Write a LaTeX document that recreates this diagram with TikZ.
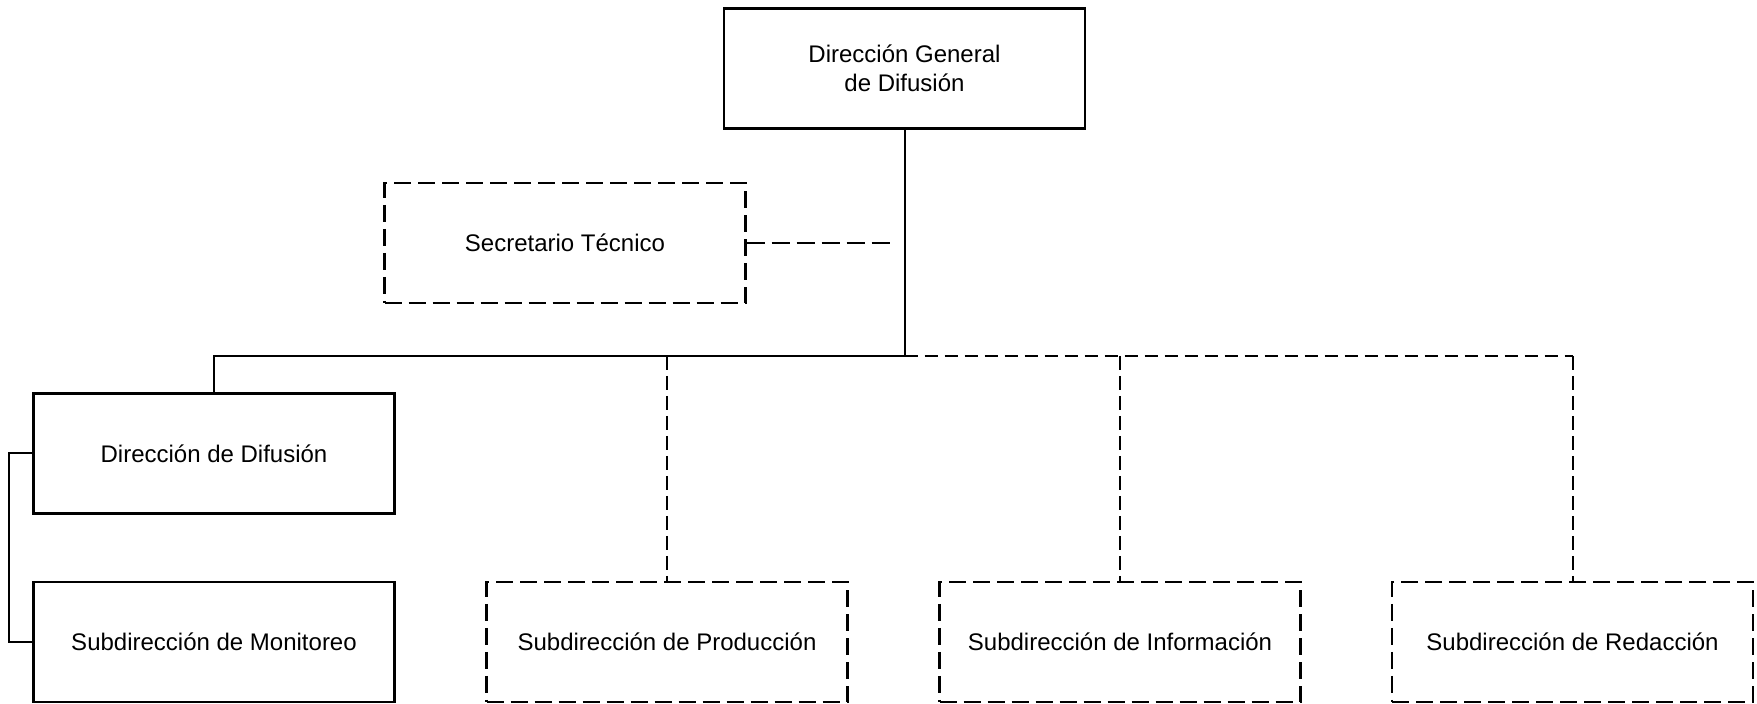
\documentclass[tikz,border=0pt]{standalone}
\usepackage{fontspec}
\setmainfont{Liberation Sans}
\tikzstyle{unit}=[draw, line width=1.1pt, minimum width=180.5pt, minimum height=60pt, align=center, font=\fontsize{12}{14.5}\selectfont]
\tikzstyle{staff}=[unit, dash pattern=on 8.5pt off 3.5pt]

\begin{document}
\begin{tikzpicture}[x=0.5pt, y=-0.5pt, line width=1pt]
\useasboundingbox (0,0) rectangle (1757,704);
% Boxes
    \node[unit] (dgd) at (904.5,68.5) {Dirección General\\de Difusión};
    \node[staff] (sec) at (565,243) {Secretario Técnico};
    \node[unit] (dd) at (214,453.5) {Dirección de Difusión};
    \node[unit] (mon) at (214,642) {Subdirección de Monitoreo};
    \node[staff] (prod) at (667,642) {Subdirección de Producción};
    \node[staff] (info) at (1120,642) {Subdirección de Información};
    \node[staff] (red) at (1572.5,642) {Subdirección de Redacción};
% Junctions
    \coordinate (hub) at (904.5,356);
    \coordinate (secend) at (895,243);
% Solid lines
    \draw (dgd.south) -- (hub);
    \draw (hub) -| (dd.north);
    \draw (dd.west) -- ([xshift=-11.5pt]dd.west) |- (mon.west);
% Dashed lines
    \draw[dash pattern=on 9pt off 3.5pt, line width=1.2pt] (sec.east) -- (secend);
    \draw[dash pattern=on 6.5pt off 3.5pt] (hub) -- (red.north |- hub);
    \foreach \sub in {prod, info, red}
        \draw[dash pattern=on 7pt off 3pt] (\sub.north |- hub) -- (\sub.north);
\end{tikzpicture}
\end{document}
